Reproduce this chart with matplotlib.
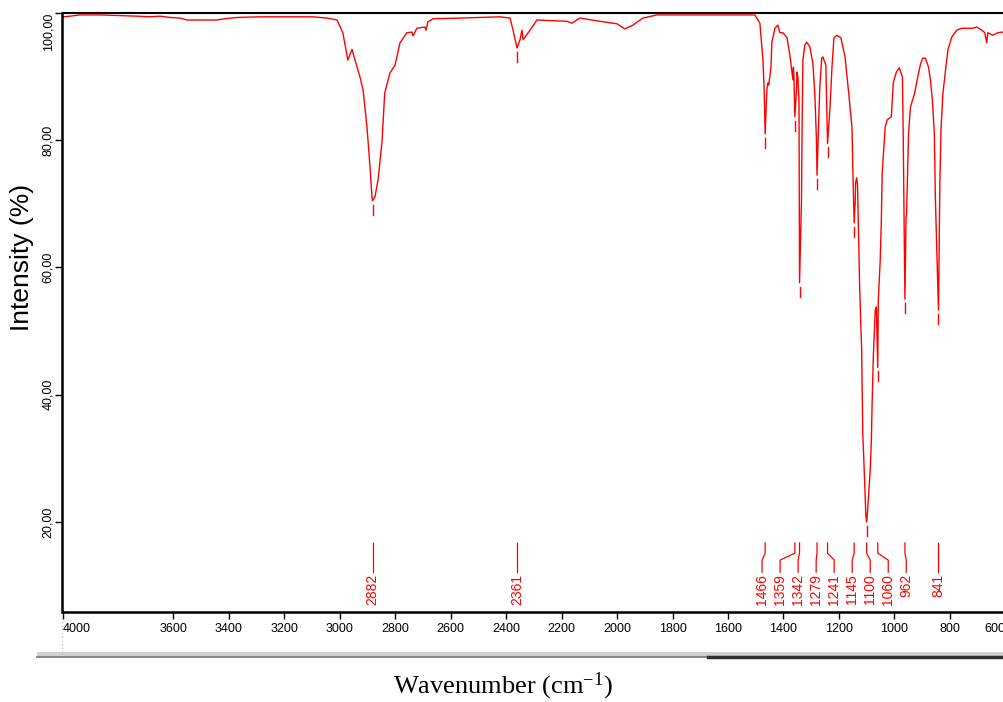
import matplotlib
matplotlib.use("Agg")
import matplotlib.pyplot as plt
from matplotlib.lines import Line2D
from matplotlib.patches import Rectangle
import numpy as np

plt.rcParams["font.family"] = ["Liberation Sans", "DejaVu Sans"]
plt.rcParams["mathtext.default"] = "regular"

# spectrum (wavenumber cm-1, intensity %)
wavenumber = [4000, 3973, 3937, 3865, 3793, 3731, 3684, 3648, 3612, 3576,
              3551, 3504, 3443, 3414, 3371, 3288, 3216, 3144, 3097, 3046,
              3010, 2989, 2971, 2956, 2945, 2927, 2916, 2902, 2891, 2884,
              2882, 2873, 2862, 2848, 2838, 2819, 2801, 2783, 2758, 2740,
              2736, 2722, 2693, 2689, 2682, 2664, 2567, 2422, 2386, 2375,
              2361, 2350, 2343, 2339, 2314, 2289, 2181, 2163, 2134, 2062,
              2000, 1972, 1943, 1907, 1856, 1701, 1557, 1503, 1485, 1474,
              1470, 1466, 1460, 1456, 1453, 1445, 1442, 1431, 1420, 1413,
              1402, 1387, 1377, 1369, 1366, 1364, 1362, 1359, 1353, 1351,
              1348, 1344, 1342, 1335, 1333, 1330, 1323, 1316, 1305, 1294,
              1287, 1281, 1279, 1275, 1269, 1262, 1258, 1247, 1244, 1241,
              1232, 1225, 1218, 1207, 1193, 1178, 1167, 1153, 1149, 1145,
              1141, 1140, 1136, 1133, 1125, 1118, 1114, 1107, 1103, 1100,
              1097, 1094, 1087, 1083, 1080, 1076, 1069, 1065, 1060, 1058,
              1051, 1047, 1044, 1033, 1026, 1011, 1004, 993, 982, 971,
              968, 964, 962, 958, 956, 949, 942, 927, 916, 905,
              898, 888, 877, 870, 863, 856, 852, 841, 836, 832,
              825, 814, 807, 793, 775, 757, 717, 703, 685, 674,
              667, 663, 645, 627, 609]
intensity = [99.4, 99.5, 99.7, 99.7, 99.6, 99.5, 99.4, 99.5, 99.3, 99.2,
             98.9, 98.9, 98.9, 99.1, 99.3, 99.4, 99.4, 99.4, 99.4, 99.2,
             98.9, 96.9, 92.6, 94.3, 92.6, 89.9, 87.9, 82.1, 75.8, 71.1,
             70.5, 71.1, 73.8, 79.6, 87.4, 90.6, 91.8, 95.3, 96.9, 97.0,
             96.4, 97.6, 97.8, 97.3, 98.6, 99.1, 99.2, 99.4, 99.2, 97.3,
             94.5, 95.8, 97.3, 95.8, 97.3, 98.9, 98.7, 98.4, 99.2, 98.7,
             98.3, 97.5, 98.1, 99.2, 99.7, 99.7, 99.7, 99.7, 98.4, 92.6,
             88.4, 81.0, 87.9, 89.0, 88.7, 91.5, 95.3, 97.6, 98.1, 96.9,
             96.9, 96.1, 93.4, 90.6, 89.5, 91.5, 89.5, 83.7, 87.9, 90.7,
             89.9, 86.3, 57.6, 70.6, 81.1, 92.6, 95.0, 95.4, 94.7, 92.1,
             87.4, 80.0, 74.5, 80.0, 88.4, 92.9, 93.1, 91.8, 85.2, 79.5,
             85.2, 91.5, 96.1, 96.5, 96.1, 93.1, 88.4, 82.1, 73.8, 67.0,
             70.6, 73.3, 74.1, 73.0, 56.5, 47.0, 34.0, 26.1, 21.0, 20.0,
             21.5, 23.5, 28.2, 32.9, 39.2, 45.9, 53.3, 53.8, 44.3, 54.9,
             61.2, 67.5, 74.9, 82.1, 83.2, 83.7, 89.0, 90.7, 91.4, 89.9,
             80.0, 62.8, 55.0, 67.8, 68.3, 81.1, 85.2, 87.4, 89.9, 92.1,
             92.9, 92.9, 91.5, 89.5, 86.3, 81.1, 70.6, 53.3, 73.3, 81.6,
             87.4, 91.5, 94.2, 96.2, 97.3, 97.6, 97.6, 97.8, 97.3, 96.9,
             95.3, 96.9, 96.5, 96.9, 97.0]

# picked peaks
peaks = [2882, 2361, 1466, 1359, 1342, 1279, 1241, 1145, 1100, 1060, 962, 841]

x_ticks = [4000, 3600, 3400, 3200, 3000, 2800, 2600, 2400, 2200, 2000,
           1800, 1600, 1400, 1200, 1000, 800, 600]
y_ticks = [20, 40, 60, 80, 100]
y_tick_labels = ["20,00", "40,00", "60,00", "80,00", "100,00"]


def spread(values, gap):
    # push labels apart so they keep a minimum distance
    groups = [[v] for v in sorted(values, reverse=True)]

    def pos(g):
        c = sum(g) / len(g)
        return [c + ((len(g) - 1) / 2.0 - i) * gap for i in range(len(g))]

    merged = True
    while merged:
        merged = False
        for i in range(len(groups) - 1):
            if pos(groups[i])[-1] - pos(groups[i + 1])[0] < gap:
                groups[i] = groups[i] + groups.pop(i + 1)
                merged = True
                break
    out = []
    for g in groups:
        out += pos(g)
    return out


W, H = 1004, 702
fig = plt.figure(figsize=(W / 100, H / 100), dpi=100)
ax = fig.add_axes([62.5 / W, 1 - 612 / H, (1005.3 - 62.5) / W, (612 - 13) / H])

ax.plot(wavenumber, intensity, color="#ff0000", lw=1.0)

ax.set_xlim(4000, 600)
ax.set_ylim(5.85, 100)

# peak markers just under each minimum
for p in sorted(peaks, reverse=True):
    t = np.interp(p, wavenumber[::-1], intensity[::-1])
    ax.plot([p, p], [t - 0.6, t - 2.2], color="#ff0000", lw=1.0)

# peak labels with leader lines
lab_pos = spread(peaks, 65)
for p, lp in zip(sorted(peaks, reverse=True), lab_pos):
    ax.plot([p, p, lp, lp], [16.7, 15.1, 14.0, 12.1], color="#ff0000", lw=0.9)
    ax.text(lp, 11.8, str(p), rotation=90, ha="center", va="top",
            fontsize=10, color="#ff0000")

ax.set_xticks(x_ticks)
ax.set_xticklabels([str(v) for v in x_ticks], fontsize=9)
xl = ax.get_xticklabels()
xl[0].set_ha("left")
xl[-1].set_ha("right")
ax.set_yticks(y_ticks)
ax.set_yticklabels(y_tick_labels, fontsize=9, rotation=90, va="center")
ax.get_yticklabels()[-1].set_va("top")
ax.tick_params(axis="x", direction="out", length=5, width=1, pad=3)
ax.tick_params(axis="y", direction="out", length=5, width=1, pad=1)

ax.spines["right"].set_visible(False)
ax.spines["left"].set_linewidth(1.8)
ax.spines["bottom"].set_linewidth(1.8)
ax.spines["top"].set_linewidth(1.5)

fig.text(22 / W, 1 - 257 / H, "Intensity (%)", rotation=90, ha="center",
         va="center", fontsize=19)
fig.text(503 / W, 1 - 686 / H, "Wavenumber (cm$^{-1}$)", ha="center",
         va="center", fontsize=19, family=["Liberation Serif", "DejaVu Serif"])

# scrollbar strip under the axis, as in the screenshot
fig.add_artist(Line2D([62 / W, 62 / W], [1 - 614 / H, 1 - 652 / H],
                      color="#c8c8c8", lw=1, ls=":"))
fig.add_artist(Rectangle((37 / W, 1 - 656 / H), (W - 37) / W, 4 / H,
                         color="#d0d0d0", lw=0))
fig.add_artist(Line2D([37 / W, 708 / W], [1 - 656.5 / H, 1 - 656.5 / H],
                      color="#707070", lw=1.2))
fig.add_artist(Line2D([708 / W, 1.0], [1 - 656.5 / H, 1 - 656.5 / H],
                      color="#303030", lw=2.5))

fig.savefig("out.png", dpi=100)
